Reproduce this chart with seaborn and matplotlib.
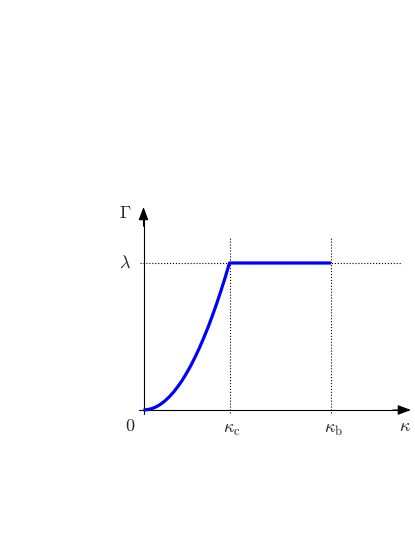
import seaborn as sns
import pandas as pd
import matplotlib.pyplot as plt

# values (kappa_c = 1, lambda = 1)
kappa = [0, 0.05, 0.1, 0.15, 0.2, 0.25, 0.3, 0.35, 0.4, 0.45, 0.5, 0.55, 0.6,
         0.65, 0.7, 0.75, 0.8, 0.85, 0.9, 0.95, 1.0, 2.18]
gamma = [0, 0.003, 0.01, 0.022, 0.04, 0.062, 0.09, 0.122, 0.16, 0.202, 0.25,
         0.302, 0.36, 0.422, 0.49, 0.562, 0.64, 0.722, 0.81, 0.902, 1.0, 1.0]
kappa_c = 1.0
kappa_b = 2.18
lam = 1.0
tick_labels = [r'$\kappa_{\rm c}$', r'$\kappa_{\rm b}$']

sns.set_style('white')
plt.rcParams['mathtext.fontset'] = 'cm'
plt.rcParams['font.family'] = ['DejaVu Serif']

df = pd.DataFrame({'kappa': kappa, 'gamma': gamma})

fig = plt.figure(figsize=(4.15, 5.37), dpi=100)
ax = fig.add_axes([0, 0, 1, 1])
# 1 unit in x = 86 px, 1 unit in y = 147 px, origin at (143.5, 410)
ax.set_xlim(-143.5 / 86, 271.5 / 86)
ax.set_ylim((410 - 537) / 147, 410 / 147)
ax.axis('off')

# axes with arrows
ax.plot([-0.052, 3.0], [0, 0], color='black', lw=0.8)
ax.annotate('', xy=(3.11, 0), xytext=(2.9, 0),
            arrowprops=dict(arrowstyle='-|>,head_length=0.8,head_width=0.3',
                            mutation_scale=10, color='black', lw=0.8,
                            shrinkA=0, shrinkB=0))
ax.plot([0, 0], [-0.027, 1.3], color='black', lw=0.8)
ax.annotate('', xy=(0, 1.381), xytext=(0, 1.25),
            arrowprops=dict(arrowstyle='-|>,head_length=0.8,head_width=0.3',
                            mutation_scale=10, color='black', lw=0.8,
                            shrinkA=0, shrinkB=0))

# dotted guides
ax.plot([-0.041, 3.0], [lam, lam], color='black', lw=0.8, ls=':')
for k in [kappa_c, kappa_b]:
    ax.plot([k, k], [-0.02, 1.177], color='black', lw=0.8, ls=':')

sns.lineplot(data=df, x='kappa', y='gamma', ax=ax, color='#0000ff', lw=2.3,
             estimator=None, sort=False, solid_capstyle='butt')

# labels
ax.text(-0.215, 1.34, r'$\Gamma$', fontsize=13, ha='center', va='center')
ax.text(-0.21, lam, r'$\lambda$', fontsize=13, ha='center', va='center')
ax.text(-0.157, -0.109, r'$0$', fontsize=13, ha='center', va='center')
for k, lab in zip([kappa_c, kappa_b], tick_labels):
    ax.text(k + 0.03, -0.13, lab, fontsize=13, ha='center', va='center')
ax.text(3.04, -0.11, r'$\kappa$', fontsize=13, ha='center', va='center')

fig.savefig('out.png', dpi=100)
